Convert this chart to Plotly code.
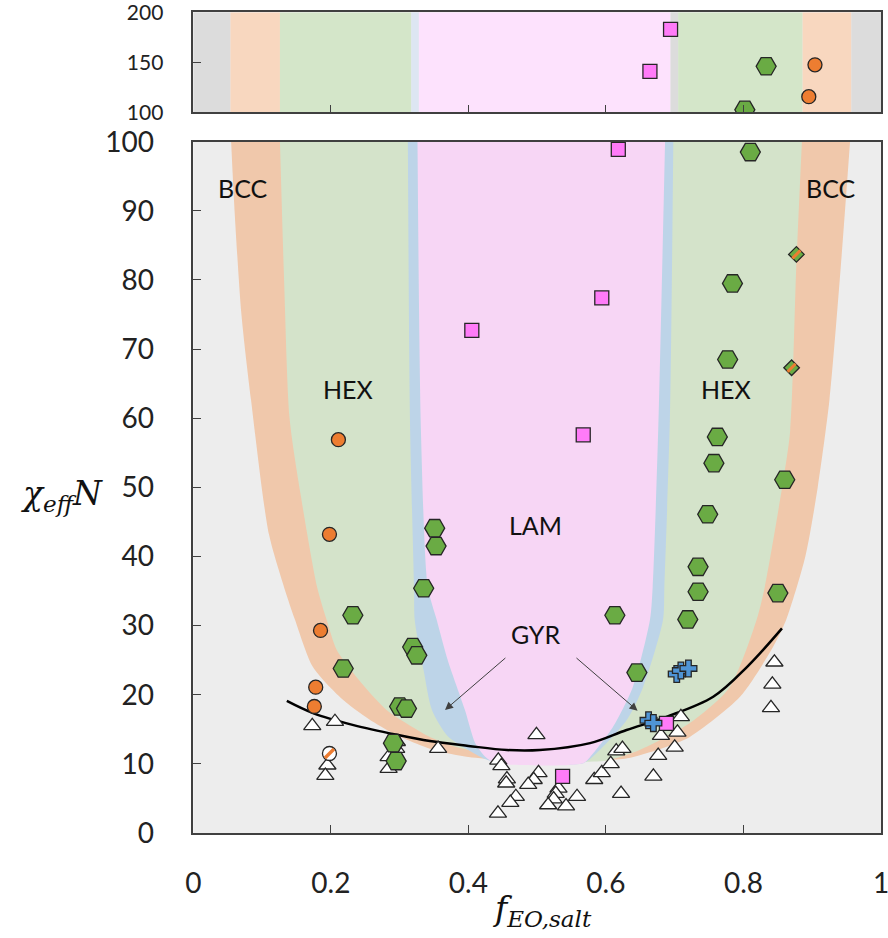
import plotly.graph_objects as go

# ---------------- axis ticks ----------------
X_TICKS = [0, 0.2, 0.4, 0.6, 0.8, 1.0]
X_TICK_TEXT = ["0", "0.2", "0.4", "0.6", "0.8", "1"]
Y_TICKS = [0, 10, 20, 30, 40, 50, 60, 70, 80, 90, 100]
Y_TOP_TICKS = [100, 150, 200]

# ---------------- phase boundaries (main panel) ----------------
# BCC (outer) region
BCC_LEFT_X = [0.055, 0.060, 0.070, 0.084, 0.110, 0.138, 0.148, 0.174, 0.215, 0.255, 0.293, 0.350, 0.400, 0.450]
BCC_LEFT_Y = [100, 90, 75, 62.6, 43.2, 33.7, 30.8, 24.0, 19.5, 16.5, 14.3, 12.0, 11.0, 10.6]
BCC_RIGHT_X = [0.550, 0.600, 0.631, 0.680, 0.722, 0.795, 0.843, 0.862, 0.890, 0.908, 0.925, 0.940, 0.955]
BCC_RIGHT_Y = [10.4, 10.5, 10.8, 12.2, 13.9, 19.7, 26.9, 30.8, 40, 50, 62.6, 80, 100]
# HEX region
HEX_LEFT_X = [0.126, 0.132, 0.140, 0.156, 0.180, 0.194, 0.209, 0.247, 0.281, 0.319, 0.344, 0.380, 0.417, 0.470]
HEX_LEFT_Y = [100, 80, 60, 49, 35.6, 30.8, 26.4, 21.4, 17.8, 15.3, 13.9, 12.5, 11.6, 10.3]
HEX_RIGHT_X = [0.560, 0.601, 0.649, 0.722, 0.780, 0.819, 0.831, 0.857, 0.868, 0.877, 0.885]
HEX_RIGHT_Y = [10.3, 10.5, 12.0, 15.9, 21.1, 30.8, 35.6, 50.5, 58.2, 82.4, 100]
# GYR region
GYR_LEFT_X = [0.312, 0.315, 0.321, 0.322, 0.335, 0.347, 0.370, 0.400, 0.430]
GYR_LEFT_Y = [100, 60, 35.6, 30.8, 23.5, 17.8, 14.0, 12.0, 10.5]
GYR_RIGHT_X = [0.567, 0.587, 0.630, 0.654, 0.683, 0.685, 0.693, 0.698]
GYR_RIGHT_Y = [10.1, 11.6, 16.3, 21.1, 30.8, 35.6, 60, 100]
# LAM region
LAM_LEFT_X = [0.326, 0.331, 0.341, 0.354, 0.370, 0.395, 0.410, 0.425, 0.440]
LAM_LEFT_Y = [100, 58.2, 35.6, 30.8, 25.0, 17.8, 13.0, 11.0, 10.1]
LAM_RIGHT_X = [0.567, 0.577, 0.610, 0.639, 0.664, 0.668, 0.676, 0.686]
LAM_RIGHT_Y = [10.1, 11.0, 15.3, 21.1, 30.8, 35.6, 58.2, 100]

# ---------------- phase bands (top panel) ----------------
TOP_BAND_EDGES = [0, 0.054, 0.126, 0.317, 0.328, 0.694, 0.705, 0.886, 0.957, 1.0]
TOP_BAND_COLORS = ["#DCDCDC", "#F8D7BF", "#D4E6C9", "#DDE6F2", "#FDE2FD",
                   "#DCDCDC", "#D4E6C9", "#F8D7BF", "#DCDCDC"]

# ---------------- ODT curve ----------------
ODT_X = [0.136, 0.175, 0.233, 0.296, 0.344, 0.400, 0.456, 0.504, 0.577, 0.630, 0.688, 0.756, 0.805, 0.856]
ODT_Y = [19.1, 17.3, 15.6, 14.2, 13.3, 12.6, 12.0, 12.0, 13.0, 14.9, 16.8, 19.7, 24.0, 29.6]

# ---------------- data points (main panel) ----------------
DIS_X = [0.173, 0.206, 0.195, 0.192, 0.296, 0.295, 0.284, 0.284, 0.356,
         0.4435, 0.448, 0.456, 0.455, 0.469, 0.461, 0.443, 0.502, 0.495, 0.487,
         0.531, 0.527, 0.524, 0.516, 0.542, 0.558, 0.622, 0.583, 0.594, 0.607,
         0.615, 0.624, 0.499,
         0.709, 0.704, 0.680, 0.700, 0.676, 0.669, 0.845, 0.842, 0.840]
DIS_Y = [15.5, 16.1, 9.8, 8.3, 13.2, 12.2, 11.0, 9.3, 12.2,
         10.5, 9.7, 7.8, 7.2, 5.25, 4.4, 2.85, 8.7, 7.7, 7.0,
         6.45, 5.7, 4.9, 4.05, 3.9, 5.25, 5.7, 7.7, 8.7, 10.0,
         11.85, 12.2, 14.2,
         16.8, 14.55, 14.1, 12.4, 11.2, 8.2, 24.7, 21.5, 18.1]

HEXP_X = [0.351, 0.353, 0.335, 0.232, 0.319, 0.325, 0.218, 0.300, 0.310, 0.291, 0.295,
          0.613, 0.645, 0.719, 0.734, 0.734, 0.748, 0.757, 0.762, 0.860, 0.850, 0.777, 0.784, 0.810]
HEXP_Y = [44.1, 41.5, 35.4, 31.5, 26.9, 25.7, 23.8, 18.3, 18.0, 13.0, 10.4,
          31.5, 23.2, 30.9, 34.9, 38.5, 46.1, 53.5, 57.3, 51.1, 34.7, 68.5, 79.5, 98.5]

BCCP_X = [0.211, 0.198, 0.185, 0.178, 0.176]
BCCP_Y = [56.9, 43.2, 29.3, 21.1, 18.3]

LAMP_X = [0.618, 0.594, 0.405, 0.567, 0.537, 0.688]
LAMP_Y = [98.9, 77.4, 72.7, 57.6, 8.2, 15.85]

GYRP_X = [0.703, 0.709, 0.720, 0.662, 0.669]
GYRP_Y = [23.0, 23.5, 23.8, 16.3, 15.9]

HEXBCC_X = [0.877, 0.870]
HEXBCC_Y = [83.7, 67.3]

BCCDIS_X = [0.198]
BCCDIS_Y = [11.5]

# ---------------- data points (top panel) ----------------
TOP_LAM_X = [0.694, 0.664]
TOP_LAM_Y = [183, 141]
TOP_HEX_X = [0.833, 0.802]
TOP_HEX_Y = [146, 102.5]
TOP_BCC_X = [0.904, 0.895]
TOP_BCC_Y = [147.5, 115.6]

# ---------------- labels ----------------
PHASE_LABELS = ["BCC", "BCC", "HEX", "HEX", "LAM", "GYR"]
PHASE_LABEL_X = [0.072, 0.928, 0.225, 0.775, 0.497, 0.497]
PHASE_LABEL_Y = [93.3, 93.3, 64.2, 64.2, 44.5, 28.8]
ARROW_START_X = [0.456, 0.555]
ARROW_START_Y = [25.5, 25.5]
ARROW_END_X = [0.366, 0.646]
ARROW_END_Y = [17.8, 17.7]

# ---------------- styles ----------------
C_BG = "#EDEDED"
C_BCC = "#F0C8AB"
C_HEX = "#D4E3CA"
C_GYR = "#BDD4E8"
C_LAM = "#F7D6F5"
EDGE = "#262626"
FONT = "Lato"
W, H = 888, 938

fig = go.Figure()


def region(lx, ly, rx, ry, color):
    fig.add_trace(go.Scatter(
        x=lx + rx, y=ly + ry, mode="lines", fill="toself", fillcolor=color,
        line=dict(width=0, color=color, shape="spline", smoothing=0.7),
        hoverinfo="skip", showlegend=False, xaxis="x", yaxis="y"))


region(BCC_LEFT_X, BCC_LEFT_Y, BCC_RIGHT_X, BCC_RIGHT_Y, C_BCC)
region(HEX_LEFT_X, HEX_LEFT_Y, HEX_RIGHT_X, HEX_RIGHT_Y, C_HEX)
region(GYR_LEFT_X, GYR_LEFT_Y, GYR_RIGHT_X, GYR_RIGHT_Y, C_GYR)
region(LAM_LEFT_X, LAM_LEFT_Y, LAM_RIGHT_X, LAM_RIGHT_Y, C_LAM)

# ODT line
fig.add_trace(go.Scatter(x=ODT_X, y=ODT_Y, mode="lines",
                         line=dict(color="black", width=2.5, shape="spline", smoothing=1.0),
                         hoverinfo="skip", showlegend=False))


def pts(x, y, symbol, size, color, ax="x", ay="y", lw=1.3, lc=EDGE):
    fig.add_trace(go.Scatter(
        x=x, y=y, mode="markers", xaxis=ax, yaxis=ay, showlegend=False,
        marker=dict(symbol=symbol, size=size, color=color, line=dict(color=lc, width=lw))))


pts(DIS_X, DIS_Y, "triangle-up", 15, "white")
pts(HEXP_X, HEXP_Y, "hexagon2", 20, "#6AAB44")
pts(BCCP_X, BCCP_Y, "circle", 14, "#ED7D31")
pts(LAMP_X, LAMP_Y, "square", 14, "#FF7BF8")
pts(GYRP_X, GYRP_Y, "cross", 14, "#4F95D6")
pts(HEXBCC_X, HEXBCC_Y, "diamond", 12, "#6AAB44")
pts(HEXBCC_X, HEXBCC_Y, "line-ne", 8, "#ED7D31", lw=3, lc="#ED7D31")
pts(BCCDIS_X, BCCDIS_Y, "circle", 14, "white")
pts(BCCDIS_X, BCCDIS_Y, "line-ne", 9, "#ED7D31", lw=3.5, lc="#ED7D31")

# top panel
pts(TOP_LAM_X, TOP_LAM_Y, "square", 14, "#FF7BF8", "x2", "y2")
pts(TOP_HEX_X, TOP_HEX_Y, "hexagon2", 20, "#6AAB44", "x2", "y2")
pts(TOP_BCC_X, TOP_BCC_Y, "circle", 14, "#ED7D31", "x2", "y2")

shapes = []
for i, col in enumerate(TOP_BAND_COLORS):
    shapes.append(dict(type="rect", xref="x2", yref="y2",
                       x0=TOP_BAND_EDGES[i], x1=TOP_BAND_EDGES[i + 1], y0=100, y1=200,
                       fillcolor=col, line=dict(width=0), layer="below"))

annotations = []
for t, x, y in zip(PHASE_LABELS, PHASE_LABEL_X, PHASE_LABEL_Y):
    annotations.append(dict(text=t, x=x, y=y, xref="x", yref="y", showarrow=False,
                            font=dict(family=FONT, size=25, color="#111111")))
for sx, sy, ex, ey in zip(ARROW_START_X, ARROW_START_Y, ARROW_END_X, ARROW_END_Y):
    annotations.append(dict(text="", x=ex, y=ey, ax=sx, ay=sy, xref="x", yref="y",
                            axref="x", ayref="y", showarrow=True, arrowhead=2,
                            arrowsize=1.6, arrowwidth=1, arrowcolor="#404040"))
annotations.append(dict(text="<i>χ<sub>eff</sub>N</i>", x=62 / W, y=1 - 495 / H,
                        xref="paper", yref="paper", showarrow=False,
                        xanchor="center", yanchor="middle",
                        font=dict(family="DejaVu Serif", size=33, color="#111111")))
annotations.append(dict(text="<i>f<sub>EO,salt</sub></i>", x=542 / W, y=1 - 910 / H,
                        xref="paper", yref="paper", showarrow=False,
                        xanchor="center", yanchor="middle",
                        font=dict(family="DejaVu Serif", size=33, color="#111111")))

X_DOM = [193.3 / W, 881 / W]
axis_common = dict(showgrid=False, zeroline=False, showline=True, mirror=True,
                   linecolor="#404040", linewidth=1.5, ticks="inside", ticklen=8,
                   tickcolor="#404040", tickwidth=1.3, automargin=False)

fig.update_layout(
    width=W, height=H, autosize=False,
    margin=dict(l=0, r=0, t=0, b=0, autoexpand=False),
    paper_bgcolor="white", plot_bgcolor=C_BG,
    font=dict(family=FONT, color="#222222"),
    xaxis=dict(domain=X_DOM, range=[0, 1], tickvals=X_TICKS, ticktext=X_TICK_TEXT,
               tickfont=dict(size=28, family=FONT), ticklabelstandoff=25, anchor="y",
               ticklabeloverflow="allow", **axis_common),
    yaxis=dict(domain=[(H - 833) / H, (H - 141.7) / H], range=[0, 100],
               tickvals=Y_TICKS, tickfont=dict(size=28, family=FONT), ticklabelstandoff=32,
               anchor="x", ticklabeloverflow="allow", **axis_common),
    xaxis2=dict(domain=X_DOM, range=[0, 1], tickvals=X_TICKS, showticklabels=False,
                anchor="y2", **axis_common),
    yaxis2=dict(domain=[(H - 112.3) / H, (H - 12.3) / H], range=[100, 200],
                tickvals=Y_TOP_TICKS, tickfont=dict(size=21, family=FONT), ticklabelstandoff=24,
                anchor="x2", ticklabeloverflow="allow", **axis_common),
    shapes=shapes,
    annotations=annotations,
)

fig.write_html("out.html", config={"displayModeBar": False},
               post_script="document.body.style.margin='0px';document.body.style.overflow='hidden';")
